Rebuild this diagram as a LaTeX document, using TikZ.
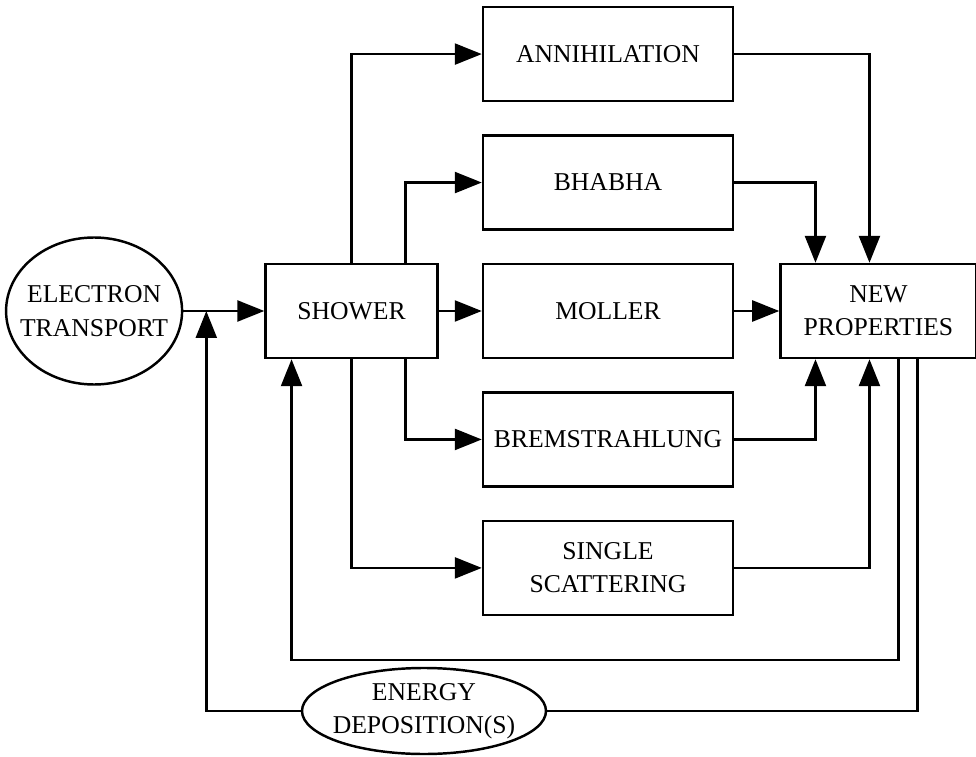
\documentclass[tikz,border=0pt]{standalone}
\usepackage{fontspec}
\setmainfont{Liberation Serif}
\usepackage{tikz}
\usetikzlibrary{shapes.geometric, arrows.meta, positioning}
\tikzstyle{process} = [rectangle, minimum width=5cm, minimum height=1.88cm, align=center, draw=black, line width=1.4pt, inner sep=0pt]
\tikzstyle{stage} = [process, minimum width=3.44cm]
\tikzstyle{result} = [process, minimum width=3.92cm]
\tikzstyle{terminal} = [ellipse, align=center, draw=black, line width=1.4pt, inner ysep=0pt]
\tikzstyle{arrow} = [line width=1.4pt,-{Triangle[length=0.54cm,width=0.42cm]}]
\tikzstyle{line} = [line width=1.4pt]

\begin{document}
\begin{tikzpicture}[node distance=0.64cm, font=\fontsize{14.6}{19}\selectfont]
    \useasboundingbox (0,0) rectangle (19.52,15.12);

    \node (moller) [process] at (12.16,8.9) {MOLLER};
    \node (bhabha) [process, above=of moller] {BHABHA};
    \node (annih) [process, above=of bhabha] {ANNIHILATION};
    \node (brems) [process, below=of moller] {BREMSTRAHLUNG};
    \node (single) [process, below=of brems] {SINGLE\\SCATTERING};
    \node (shower) [stage, left=0.86cm of moller] {SHOWER};
    \node (newprop) [result, right=0.9cm of moller] {NEW\\PROPERTIES};
    \node (etrans) [terminal, left=1.62cm of shower, minimum width=3.52cm, minimum height=2.94cm, inner xsep=-0.26cm] {ELECTRON\\TRANSPORT};
    \node (edep) [terminal, minimum width=4.88cm, minimum height=1.72cm, inner xsep=-0.15cm] at (8.48,0.9) {ENERGY\\DEPOSITION(S)};

    \coordinate [right=0.46cm of etrans.east] (join);

    \draw [arrow] (etrans) -- (shower);
    \draw [arrow] (shower.north) |- (annih.west);
    \draw [arrow] ([xshift=1.08cm]shower.north) |- (bhabha.west);
    \draw [arrow] (shower) -- (moller);
    \draw [arrow] ([xshift=1.08cm]shower.south) |- (brems.west);
    \draw [arrow] (shower.south) |- (single.west);

    \draw [arrow] (annih.east) -| ([xshift=-0.18cm]newprop.north);
    \draw [arrow] (bhabha.east) -| ([xshift=-1.26cm]newprop.north);
    \draw [arrow] (moller) -- (newprop);
    \draw [arrow] (brems.east) -| ([xshift=-1.26cm]newprop.south);
    \draw [arrow] (single.east) -| ([xshift=-0.18cm]newprop.south);

    \draw [arrow] ([xshift=0.4cm]newprop.south) -- ++(0,-6.02) -| ([xshift=-1.2cm]shower.south);
    \draw [line] ([xshift=0.78cm]newprop.south) |- (edep.east);
    \draw [arrow] (edep.west) -| (join);
\end{tikzpicture}
\end{document}
